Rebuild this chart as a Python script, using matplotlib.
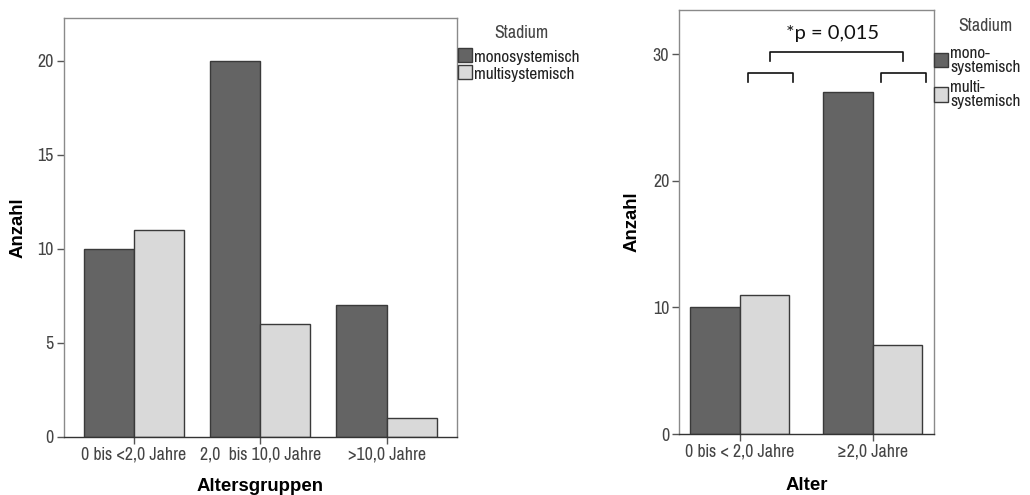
import matplotlib
matplotlib.use('Agg')
import numpy as np
import matplotlib.pyplot as plt
from matplotlib.patches import Patch

# Daten links (Altersgruppen)
gruppen_links = ['0 bis <2,0 Jahre', '2,0  bis 10,0 Jahre', '>10,0 Jahre']
mono_links = [10, 20, 7]
multi_links = [11, 6, 1]

# Daten rechts (Alter)
gruppen_rechts = ['0 bis < 2,0 Jahre', '\u22652,0 Jahre']
mono_rechts = [10, 27]
multi_rechts = [11, 7]

serien_links = ['monosystemisch', 'multisystemisch']
serien_rechts = ['mono-\nsystemisch', 'multi-\nsystemisch']
p_text = '*p = 0,015'

dunkel = '#646464'
hell = '#d9d9d9'
kante = '#3a3a3a'
narrow = ['Pragati Narrow', 'Archivo Narrow', 'Liberation Sans', 'DejaVu Sans']
fett = ['Liberation Sans', 'DejaVu Sans']

fig = plt.figure(figsize=(10.3, 4.95), dpi=100)
ax1 = fig.add_axes([0.0617, 0.1178, 0.3816, 0.8453])
ax2 = fig.add_axes([0.6592, 0.1232, 0.2476, 0.8566])


def panel(ax, labels, mono, multi, breite, xlim, ylim, yticks, xlabel):
    x = np.arange(len(labels))
    ax.bar(x - breite / 2, mono, breite, color=dunkel, edgecolor=kante, linewidth=1, zorder=2)
    ax.bar(x + breite / 2, multi, breite, color=hell, edgecolor=kante, linewidth=1, zorder=2)
    ax.set_xlim(*xlim)
    ax.set_ylim(*ylim)
    ax.set_xticks(x)
    ax.set_xticklabels(labels, fontfamily=narrow, fontsize=14, color='#444444')
    ax.set_yticks(yticks)
    ax.set_yticklabels([str(t) for t in yticks], fontfamily=narrow, fontsize=14, color='#444444')
    ax.tick_params(direction='out', length=5, width=1, color='#555555', pad=2)
    for s in ax.spines.values():
        s.set_color('#8a8a8a')
        s.set_linewidth(1)
    ax.spines['bottom'].set_color('#333333')
    ax.set_ylabel('Anzahl', fontfamily=fett, fontsize=13.4, fontweight='bold')
    ax.set_xlabel(xlabel, fontfamily=fett, fontsize=13.4, fontweight='bold')
    return x


panel(ax1, gruppen_links, mono_links, multi_links, 0.396, (-0.554, 2.554), (0, 22.25),
      [0, 5, 10, 15, 20], 'Altersgruppen')
ax1.yaxis.set_label_coords(-0.095, 0.5)
ax1.xaxis.set_label_coords(0.5, -0.099)

x2 = panel(ax2, gruppen_rechts, mono_rechts, multi_rechts, 0.37, (-0.455, 1.46), (0, 33.5),
           [0, 10, 20, 30], 'Alter')
ax2.yaxis.set_label_coords(-0.15, 0.5)
ax2.xaxis.set_label_coords(0.5, -0.101)

# Klammern fuer den Signifikanztest
mitten = x2 + 0.37 / 2 + 0.045
y_klein, y_gross, drop = 28.5, 30.2, 0.7
for m in mitten:
    ax2.plot([m - 0.17, m - 0.17, m + 0.17, m + 0.17],
             [y_klein - drop, y_klein, y_klein, y_klein - drop],
             color='#111111', lw=1.2, clip_on=False, zorder=3)
ax2.plot([mitten[0], mitten[0], mitten[1], mitten[1]],
         [y_gross - drop, y_gross, y_gross, y_gross - drop],
         color='#111111', lw=1.2, clip_on=False, zorder=3)
ax2.text(mitten.mean() - 0.03, y_gross + 0.8, p_text, ha='center', va='bottom',
         fontfamily=['Lato', 'DejaVu Sans'], fontsize=14.5, color='#111111')


# Legenden (Titel separat gesetzt)
def legende(ax, labels, anchor, spacing, titel_xy):
    handles = [Patch(facecolor=dunkel, edgecolor=kante, linewidth=1),
               Patch(facecolor=hell, edgecolor=kante, linewidth=1)]
    leg = ax.legend(handles, labels, loc='upper left',
                    bbox_to_anchor=anchor, bbox_transform=fig.transFigure,
                    frameon=False, borderpad=0, borderaxespad=0,
                    handlelength=0.75, handleheight=0.8, handletextpad=0.12,
                    labelspacing=spacing,
                    prop={'family': narrow, 'size': 13.6})
    for t in leg.get_texts():
        t.set_color('#222222')
        t.set_linespacing(0.9)
    fig.text(titel_xy[0] / 1030, 1 - titel_xy[1] / 495, 'Stadium', ha='center', va='center',
             fontfamily=narrow, fontsize=14, color='#444444')
    return leg


legende(ax1, serien_links, (0.4447, 1 - 48 / 495), 0.0, (521, 33))
legende(ax2, serien_rechts, (0.9068, 1 - 46 / 495), 0.3, (985, 26))

fig.savefig('out.png', dpi=100)
